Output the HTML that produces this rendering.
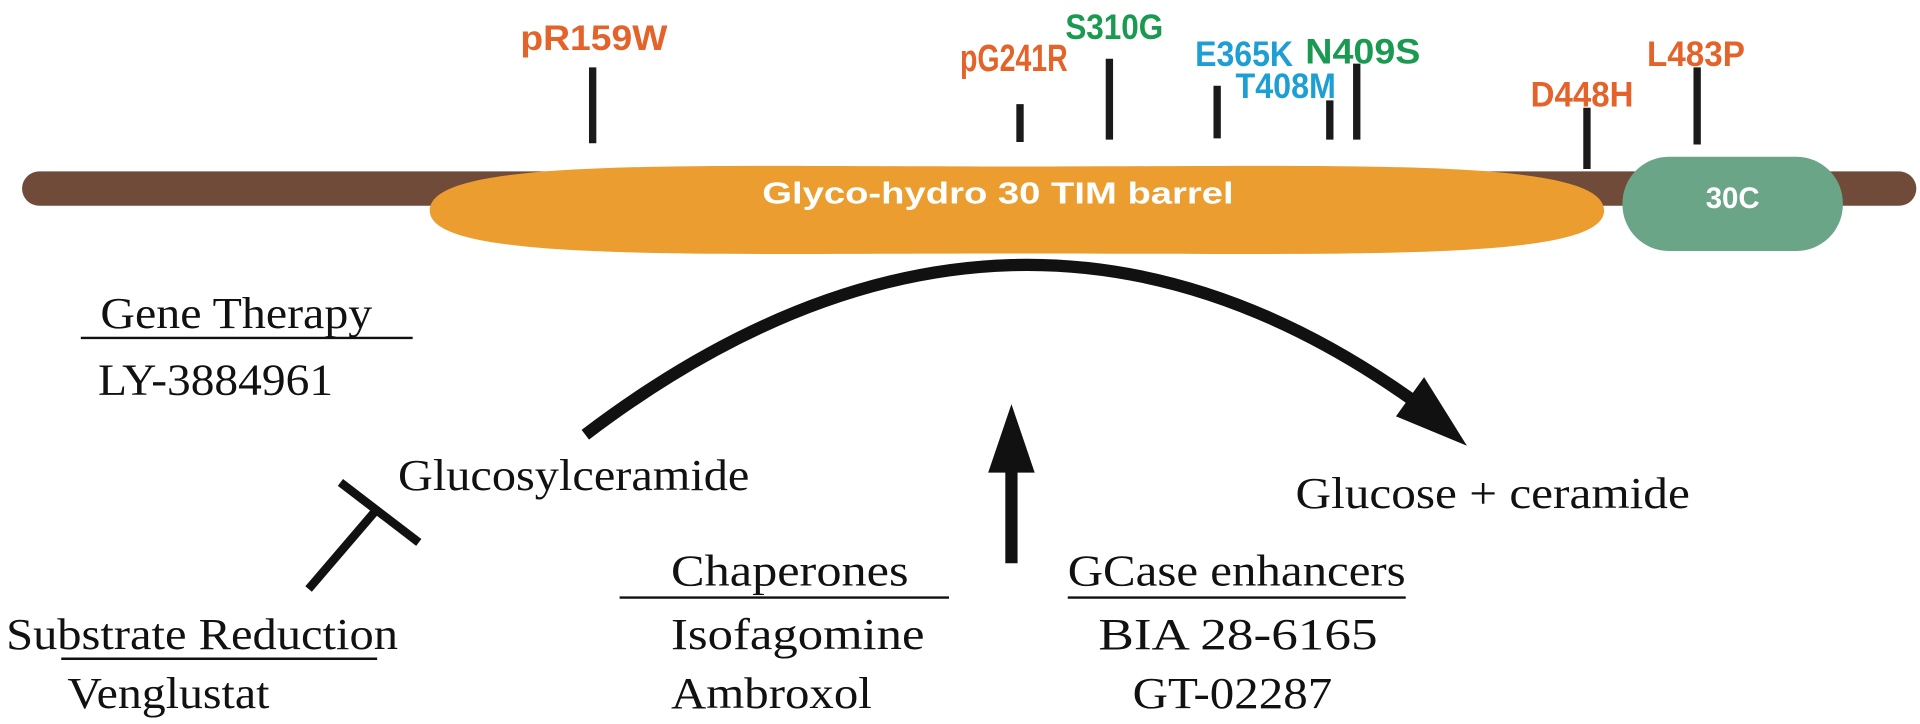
<!DOCTYPE html>
<html><head><meta charset="utf-8"><style>html,body{margin:0;padding:0;background:#fff}svg{display:block}</style></head>
<body>
<svg width="1920" height="724" viewBox="0 0 1920 724" xmlns="http://www.w3.org/2000/svg">
<g transform="scale(1.2245)">
<rect x="18" y="140" width="1547" height="28" rx="14" fill="#714b39"/>
<path d="M351,172 C351,128 560,136 830,136 C1100,136 1310,128 1310,172 C1310,214 1100,207 830,207 C560,207 351,214 351,172 Z" fill="#eb9d2f"/>
<rect x="1325" y="128" width="180" height="77" rx="38" fill="#6aa588"/>
<g stroke="#1a1a1a" stroke-width="6">
<line x1="484" y1="55" x2="484" y2="117"/>
<line x1="833" y1="85" x2="833" y2="116"/>
<line x1="906" y1="48" x2="906" y2="114"/>
<line x1="994" y1="70" x2="994" y2="113"/>
<line x1="1086" y1="82" x2="1086" y2="114"/>
<line x1="1108" y1="52" x2="1108" y2="114"/>
<line x1="1296" y1="88" x2="1296" y2="138"/>
<line x1="1386" y1="55" x2="1386" y2="118"/>
</g>
<g font-family="Liberation Sans, sans-serif" font-weight="bold" font-size="29" text-anchor="middle">
<text x="485" y="41" fill="#e4632a" textLength="120" lengthAdjust="spacingAndGlyphs">pR159W</text>
<text x="828" y="58" fill="#e4632a" font-size="31" textLength="88" lengthAdjust="spacingAndGlyphs">pG241R</text>
<text x="910" y="32" fill="#1a9a50" textLength="80" lengthAdjust="spacingAndGlyphs">S310G</text>
<text x="1016" y="54" fill="#1d9fd4" textLength="80" lengthAdjust="spacingAndGlyphs">E365K</text>
<text x="1050" y="80" fill="#1d9fd4" textLength="82" lengthAdjust="spacingAndGlyphs">T408M</text>
<text x="1113" y="52" fill="#1a9a50" textLength="94" lengthAdjust="spacingAndGlyphs">N409S</text>
<text x="1292" y="87" fill="#e4632a" textLength="84" lengthAdjust="spacingAndGlyphs">D448H</text>
<text x="1385" y="54" fill="#e4632a" textLength="80" lengthAdjust="spacingAndGlyphs">L483P</text>
<text x="815" y="166" fill="#fff" font-size="25" textLength="385" lengthAdjust="spacingAndGlyphs">Glyco-hydro 30 TIM barrel</text>
<text x="1415" y="170" fill="#fff" font-size="24">30C</text>
</g>
<path d="M478,355 Q830,88 1165,335" fill="none" stroke="#111" stroke-width="10"/>
<polygon points="1198,364 1140,340 1163,308" fill="#111"/>
<line x1="826" y1="460" x2="826" y2="380" stroke="#111" stroke-width="10"/>
<polygon points="826,330 807,386 845,386" fill="#111"/>
<g stroke="#111" stroke-width="7">
<line x1="252" y1="481" x2="306" y2="418"/>
<line x1="278" y1="394" x2="342" y2="443"/>
</g>
<g font-family="Liberation Serif, serif" font-size="36" fill="#111">
<text x="82" y="268" textLength="222" lengthAdjust="spacingAndGlyphs">Gene Therapy</text>
<text x="80" y="322" textLength="192" lengthAdjust="spacingAndGlyphs">LY-3884961</text>
<text x="325" y="400" textLength="287" lengthAdjust="spacingAndGlyphs">Glucosylceramide</text>
<text x="1058" y="415" textLength="322" lengthAdjust="spacingAndGlyphs">Glucose + ceramide</text>
<text x="548" y="478" textLength="194" lengthAdjust="spacingAndGlyphs">Chaperones</text>
<text x="548" y="530" textLength="207" lengthAdjust="spacingAndGlyphs">Isofagomine</text>
<text x="548" y="578" textLength="164" lengthAdjust="spacingAndGlyphs">Ambroxol</text>
<text x="872" y="478" textLength="276" lengthAdjust="spacingAndGlyphs">GCase enhancers</text>
<text x="897" y="530" textLength="228" lengthAdjust="spacingAndGlyphs">BIA 28-6165</text>
<text x="925" y="578" textLength="163" lengthAdjust="spacingAndGlyphs">GT-02287</text>
<text x="5" y="530" textLength="320" lengthAdjust="spacingAndGlyphs">Substrate Reduction</text>
<text x="55" y="578" textLength="165" lengthAdjust="spacingAndGlyphs">Venglustat</text>
</g>
<g stroke="#111" stroke-width="2">
<line x1="66" y1="276" x2="337" y2="276"/>
<line x1="506" y1="488" x2="775" y2="488"/>
<line x1="872" y1="488" x2="1148" y2="488"/>
<line x1="50" y1="538" x2="308" y2="538"/>
</g>
</g>
</svg>
</body></html>
